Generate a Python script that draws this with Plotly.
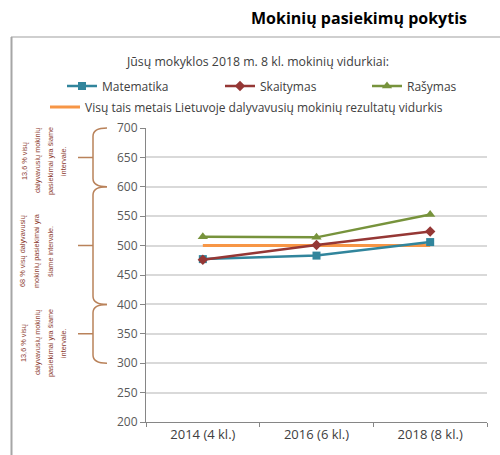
import plotly.graph_objects as go

# ---- data ----
categories = ["2014 (4 kl.)", "2016 (6 kl.)", "2018 (8 kl.)"]
matematika = [477, 483, 506]
skaitymas = [476, 501, 524]
rasymas = [515, 514, 553]
lietuva = [500, 500, 500]
y_ticks = [200, 250, 300, 350, 400, 450, 500, 550, 600, 650, 700]
series_names = ["Matematika", "Skaitymas", "Rašymas",
                "Visų tais metais Lietuvoje dalyvavusių mokinių rezultatų vidurkis"]
title_text = "Mokinių pasiekimų pokytis"
subtitle_text = "Jūsų mokyklos 2018 m. 8 kl. mokinių vidurkiai:"
brace_ranges = [(600, 700), (400, 600), (300, 400)]
brace_texts = [
    ["13,6 % visų", "dalyvavusių mokinių", "pasiekimai yra šiame", "intervale."],
    ["68 % visų dalyvavusių", "mokinių pasiekimai yra", "šiame intervale."],
    ["13,6 % visų", "dalyvavusių mokinių", "pasiekimai yra šiame", "intervale."],
]

# ---- layout geometry (pixels) ----
W, H = 500, 455
L, R, T, B = 146, 487, 128, 422
YMIN, YMAX = 200, 700


def px(x):
    return (x - L) / (R - L)


def py(y):
    return (B - y) / (B - T)


def vy(v):
    return (v - YMIN) / (YMAX - YMIN)


FONT = "Open Sans"
TXT = "#404040"
AX = "#595959"

fig = go.Figure()

fig.add_trace(go.Scatter(x=categories, y=lietuva, mode="lines", name=series_names[3],
                         line=dict(color="#F79646", width=3), legend="legend4"))
fig.add_trace(go.Scatter(x=categories, y=matematika, mode="lines+markers", name=series_names[0],
                         line=dict(color="#31859C", width=2.5),
                         marker=dict(symbol="square", size=8, color="#31859C"), legend="legend"))
fig.add_trace(go.Scatter(x=categories, y=skaitymas, mode="lines+markers", name=series_names[1],
                         line=dict(color="#953735", width=2.5),
                         marker=dict(symbol="diamond", size=8, color="#953735"), legend="legend2"))
fig.add_trace(go.Scatter(x=categories, y=rasymas, mode="lines+markers", name=series_names[2],
                         line=dict(color="#77933C", width=2.5),
                         marker=dict(symbol="triangle-up", size=9, color="#77933C"), legend="legend3"))

shapes = []
# outer frame (top and left)
shapes.append(dict(type="line", xref="paper", yref="paper", x0=px(11), x1=px(500),
                   y0=py(37), y1=py(37), line=dict(color="#BFBFBF", width=1.5)))
shapes.append(dict(type="line", xref="paper", yref="paper", x0=px(11.5), x1=px(11.5),
                   y0=py(37), y1=py(460), line=dict(color="#A6A6A6", width=2)))

brace_col = "#B9825A"
xt, xv, xm = px(107), px(93), px(78)
d = 0.028
for lo, hi in brace_ranges:
    ylo, yhi = vy(lo), vy(hi)
    ymid = (ylo + yhi) / 2
    path = (f"M {xt},{yhi} Q {xv},{yhi} {xv},{yhi - d} L {xv},{ylo + d} "
            f"Q {xv},{ylo} {xt},{ylo} M {xm},{ymid} L {xv},{ymid}")
    shapes.append(dict(type="path", xref="paper", yref="paper", path=path,
                       line=dict(color=brace_col, width=1.5)))

annotations = [
    dict(text=f"<b>{title_text}</b>", x=px(359), y=py(18), xref="paper", yref="paper",
         showarrow=False, xanchor="center", yanchor="middle",
         font=dict(family=FONT, size=16, color="#000000")),
    dict(text=subtitle_text, x=px(257), y=py(62), xref="paper", yref="paper",
         showarrow=False, xanchor="center", yanchor="middle",
         font=dict(family=FONT, size=12.3, color=TXT)),
]
col_x = [[24, 37, 50, 63], [22, 36, 50], [23, 37, 50, 63]]
text_cy = [161, 251, 343]
for lines, xs, cy in zip(brace_texts, col_x, text_cy):
    for line, cx in zip(lines, xs):
        annotations.append(dict(text=line, x=px(cx), y=py(cy), xref="paper", yref="paper",
                                showarrow=False, textangle=-90, align="center",
                                xanchor="center", yanchor="middle",
                                font=dict(family="Liberation Sans", size=7.3,
                                          color="#8B3A2E")))


def leg(x, y):
    return dict(x=px(x), y=py(y), xref="paper", yref="paper", xanchor="left", yanchor="middle",
                orientation="h", bgcolor="rgba(0,0,0,0)", borderwidth=0, itemwidth=30,
                font=dict(family=FONT, size=12, color=TXT), itemclick=False)


fig.update_layout(
    width=W, height=H,
    margin=dict(l=L, r=W - R, t=T, b=H - B, pad=0),
    paper_bgcolor="white", plot_bgcolor="white",
    showlegend=True,
    legend=leg(62, 86),
    legend2=leg(220, 86),
    legend3=leg(367, 86),
    legend4=leg(45, 107),
    shapes=shapes,
    annotations=annotations,
    xaxis=dict(type="category", range=[-0.5, 2.5], showline=True, linecolor="#868686", linewidth=1,
               ticks="outside", tickson="boundaries", ticklen=4, tickcolor="#868686",
               showgrid=False, tickfont=dict(family=FONT, size=13, color=TXT)),
    yaxis=dict(range=[YMIN, YMAX], tickvals=y_ticks, showgrid=True, gridcolor="#D9D9D9",
               gridwidth=1.5, showline=True, linecolor="#868686", linewidth=1,
               ticks="outside", ticklen=5, tickcolor="#868686", zeroline=False,
               tickfont=dict(family=FONT, size=12, color=AX)),
)

fig.write_html("out.html")
